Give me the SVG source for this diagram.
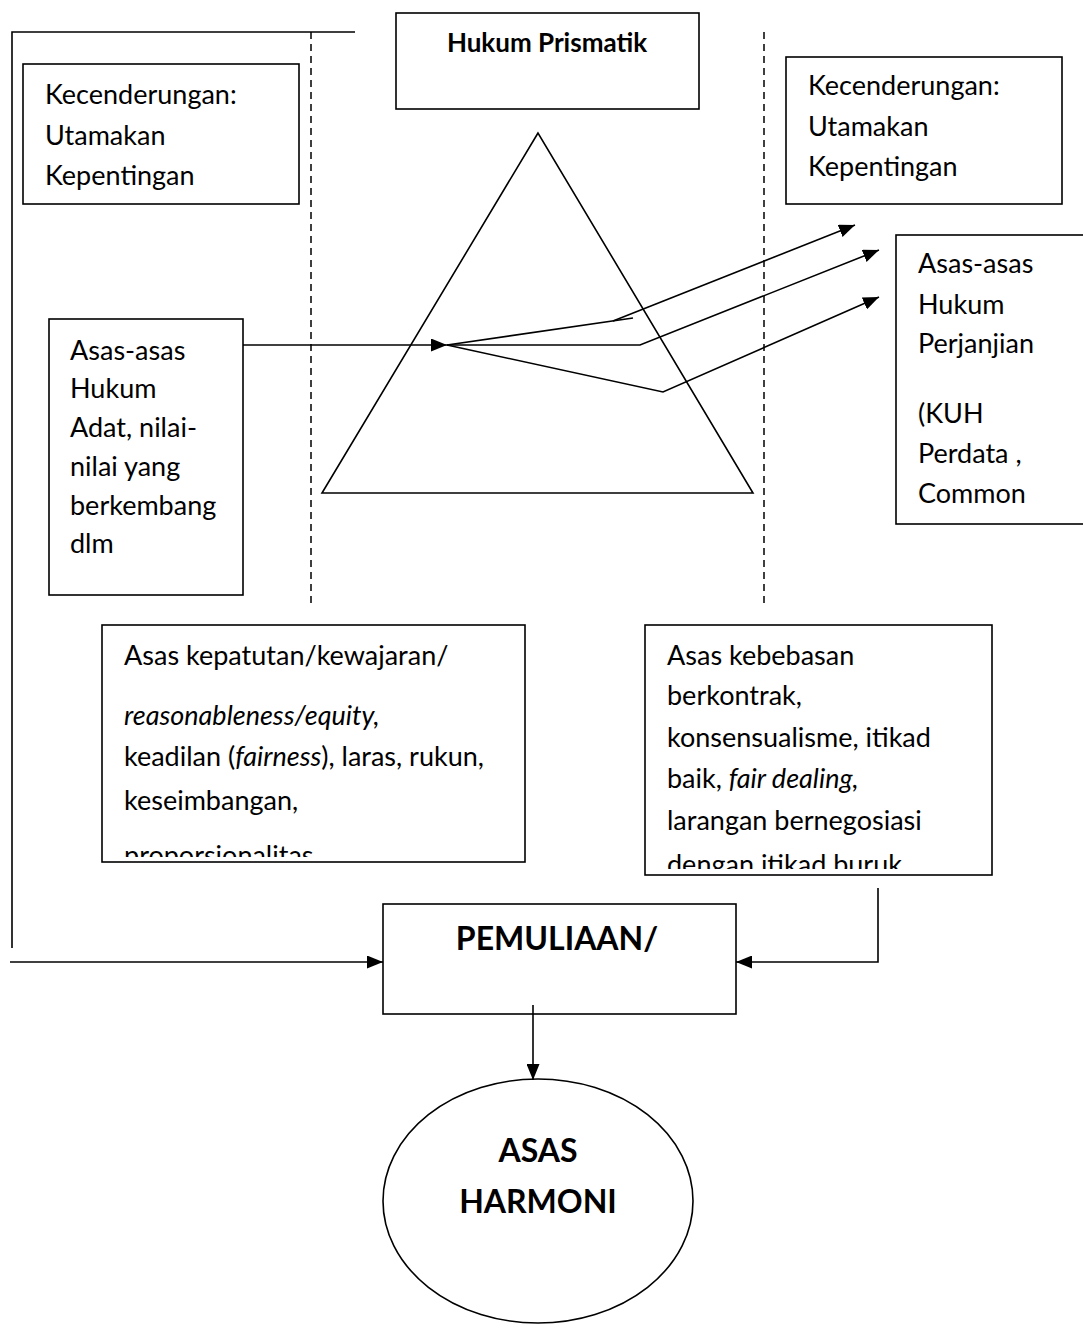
<svg xmlns="http://www.w3.org/2000/svg" width="1083" height="1342" viewBox="0 0 1083 1342">
<style>
  .box { fill: #fff; stroke: #000; stroke-width: 1.6; }
  .ln { fill: none; stroke: #000; stroke-width: 1.6; }
  .dash { fill: none; stroke: #000; stroke-width: 1.5; stroke-dasharray: 7 5; }
  .t { font-family: Lato, "Open Sans", "Liberation Sans", sans-serif; font-size: 27px; fill: #000; }
  .b { font-family: Lato, "Open Sans", "Liberation Sans", sans-serif; font-weight: bold; fill: #000; }
  .i { font-style: italic; }
</style>
<defs>
  <marker id="arr" markerUnits="userSpaceOnUse" markerWidth="16" markerHeight="13" refX="16" refY="6.5" orient="auto">
    <path d="M0,0 L16,6.5 L0,13 z" fill="#000"/>
  </marker>
  <clipPath id="clipL"><rect x="102" y="625" width="423" height="232"/></clipPath>
  <clipPath id="clipR"><rect x="645" y="625" width="347" height="244"/></clipPath>
</defs>

<g id="frame-lines">
  <path class="dash" d="M311,32 V608"/>
  <path class="dash" d="M764,32 V608"/>
</g>

<g id="prism">
  <polygon class="ln" points="538,133 322,493 753,493"/>
</g>

<g id="hukum-prismatik">
  <rect class="box" x="396" y="13" width="303" height="96"/>
  <text class="b" x="547" y="52" font-size="26" text-anchor="middle">Hukum Prismatik</text>
</g>

<g id="kecenderungan-left">
  <rect class="box" x="23" y="64" width="276" height="140"/>
  <text class="t" x="45" y="104">Kecenderungan:</text>
  <text class="t" x="45" y="145">Utamakan</text>
  <text class="t" x="45" y="185">Kepentingan</text>
</g>

<g id="kecenderungan-right">
  <rect class="box" x="786" y="57" width="276" height="147"/>
  <text class="t" x="808" y="95">Kecenderungan:</text>
  <text class="t" x="808" y="136">Utamakan</text>
  <text class="t" x="808" y="176">Kepentingan</text>
</g>

<g id="asas-adat">
  <rect class="box" x="49" y="319" width="194" height="276"/>
  <text class="t" x="70" y="360">Asas-asas</text>
  <text class="t" x="70" y="398">Hukum</text>
  <text class="t" x="70" y="437">Adat, nilai-</text>
  <text class="t" x="70" y="476">nilai yang</text>
  <text class="t" x="70" y="515">berkembang</text>
  <text class="t" x="70" y="553">dlm</text>
</g>

<g id="asas-perjanjian">
  <rect class="box" x="896" y="235" width="200" height="289"/>
  <text class="t" x="918" y="273">Asas-asas</text>
  <text class="t" x="918" y="314">Hukum</text>
  <text class="t" x="918" y="353">Perjanjian</text>
  <text class="t" x="918" y="423">(KUH</text>
  <text class="t" x="918" y="463">Perdata ,</text>
  <text class="t" x="918" y="503">Common</text>
</g>

<g id="asas-kepatutan">
  <rect class="box" x="102" y="625" width="423" height="237"/>
  <g clip-path="url(#clipL)">
    <text class="t" x="124" y="665">Asas kepatutan/kewajaran/</text>
    <text class="t i" x="124" y="725">reasonableness/equity,</text>
    <text class="t" x="124" y="766">keadilan (<tspan class="i">fairness</tspan>), laras, rukun,</text>
    <text class="t" x="124" y="810">keseimbangan,</text>
    <text class="t" x="124" y="865">proporsionalitas</text>
  </g>
</g>

<g id="asas-kebebasan">
  <rect class="box" x="645" y="625" width="347" height="250"/>
  <g clip-path="url(#clipR)">
    <text class="t" x="667" y="665">Asas kebebasan</text>
    <text class="t" x="667" y="705">berkontrak,</text>
    <text class="t" x="667" y="747">konsensualisme, itikad</text>
    <text class="t" x="667" y="788">baik, <tspan class="i">fair dealing,</tspan></text>
    <text class="t" x="667" y="830">larangan bernegosiasi</text>
    <text class="t" x="667" y="874">dengan itikad buruk</text>
  </g>
</g>

<g id="pemuliaan">
  <rect class="box" x="383" y="904" width="353" height="110"/>
  <text class="b" x="557" y="950" font-size="32" text-anchor="middle">PEMULIAAN/</text>
</g>

<g id="asas-harmoni">
  <ellipse class="box" cx="538" cy="1201" rx="155" ry="122"/>
  <text class="b" x="538" y="1162" font-size="32" text-anchor="middle">ASAS</text>
  <text class="b" x="538" y="1213" font-size="32" text-anchor="middle">HARMONI</text>
</g>

<g id="connectors">
  <path class="ln" d="M355,32 H12 V948"/>
  <path class="ln" d="M10,962 H383" marker-end="url(#arr)"/>
  <path class="ln" d="M878,888 V962 H736" marker-end="url(#arr)"/>
  <path class="ln" d="M533,1005 V1080" marker-end="url(#arr)"/>
  <path class="ln" d="M243,345 H447" marker-end="url(#arr)"/>
  <path class="ln" d="M447,345 L633,318"/>
  <path class="ln" d="M613,321 L855,225" marker-end="url(#arr)"/>
  <path class="ln" d="M447,345 H640 L879,250" marker-end="url(#arr)"/>
  <path class="ln" d="M447,345 L663,392 L879,297" marker-end="url(#arr)"/>
</g>
</svg>
